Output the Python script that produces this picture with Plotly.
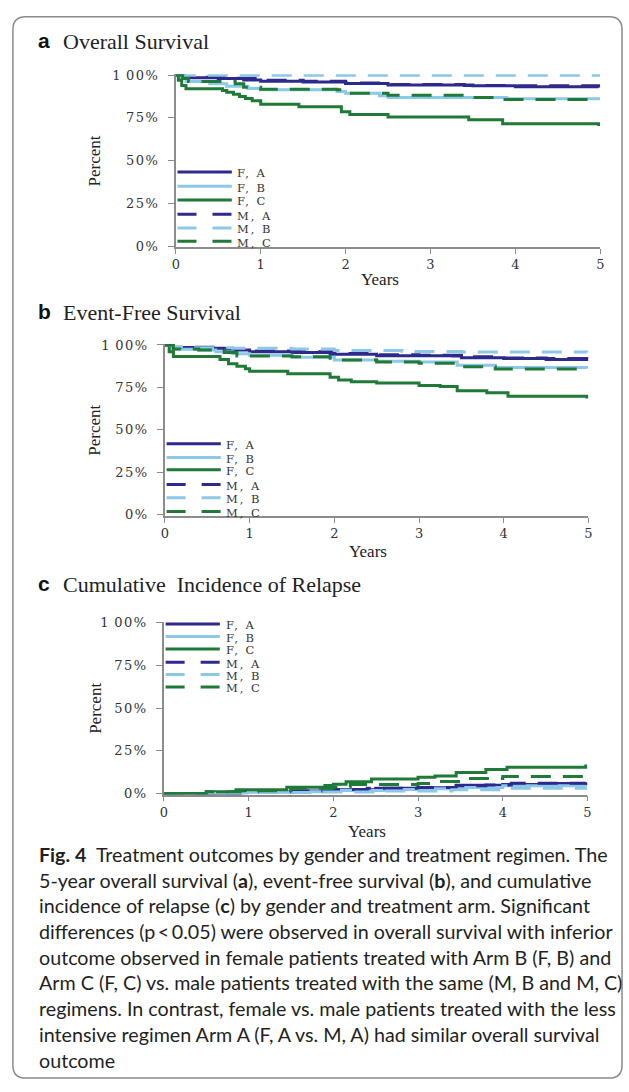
import plotly.graph_objects as go

W, H = 629, 1092

series_names = ["F, A", "F, B", "F, C", "M, A", "M, B", "M, C"]
series_colors = ["#2d2a8c", "#8cc8e8", "#1e7a36", "#2d2a8c", "#8cc8e8", "#1e7a36"]
series_dashed = [False, False, False, True, True, True]

# ---- Panel a: Overall Survival (years, percent)
os_t = {
    "F, A": [0, 0.08, 0.5, 0.8, 1.0, 1.5, 2.0, 2.5, 3.5, 4.0, 4.98],
    "F, B": [0, 0.05, 0.12, 0.4, 0.6, 0.85, 1.0, 1.9, 2.0, 2.4, 2.5, 3.9, 4.98],
    "F, C": [0, 0.03, 0.07, 0.12, 0.5, 0.55, 0.6, 0.68, 0.75, 0.82, 0.9, 1.0, 1.45, 1.95, 2.05, 2.5, 3.45, 3.85, 4.98],
    "M, A": [0, 0.1, 0.6, 1.0, 1.5, 2.0, 2.5, 3.0, 3.4, 4.0, 4.98],
    "M, B": [0, 5.0],
    "M, C": [0, 0.08, 0.15, 0.7, 0.8, 1.0, 1.9, 2.0, 2.5, 3.4, 3.5, 3.85, 4.98],
}
os_s = {
    "F, A": [100, 98.5, 98, 97.2, 96.5, 96, 95.2, 94.2, 93.8, 93.3, 92.8],
    "F, B": [100, 98, 96.3, 95, 93.5, 92.2, 91.5, 90.5, 89.5, 88, 87, 86.2, 85.3],
    "F, C": [100, 97, 94, 92, 92, 91, 90, 88.8, 87.5, 86.3, 85, 83, 81.6, 78.6, 77, 75.5, 74, 71.6, 70.3],
    "M, A": [100, 98.8, 98.2, 97, 96.5, 95.5, 94.5, 94.5, 94, 93.8, 93.5],
    "M, B": [100, 100],
    "M, C": [100, 98, 96.3, 95, 93, 91.8, 91.5, 89.5, 88.2, 88.0, 87, 85.8, 85.3],
}

# ---- Panel b: Event-Free Survival
efs_t = {
    "F, A": [0, 0.1, 0.5, 0.7, 1.0, 1.5, 1.95, 2.5, 3.4, 3.5, 4.0, 4.5, 4.98],
    "F, B": [0, 0.08, 0.4, 0.6, 0.8, 1.0, 1.5, 2.0, 2.5, 3.0, 3.45, 3.9, 4.98],
    "F, C": [0, 0.05, 0.1, 0.55, 0.65, 0.75, 0.85, 0.95, 1.0, 1.45, 1.95, 2.05, 2.2, 2.5, 3.0, 3.25, 3.45, 3.8, 4.05, 4.98],
    "M, A": [0, 0.1, 0.6, 1.0, 1.6, 2.0, 2.5, 3.0, 3.5, 4.0, 4.5, 4.98],
    "M, B": [0, 0.1, 0.3, 0.8, 1.5, 2.0, 2.8, 3.5, 4.98],
    "M, C": [0, 0.1, 0.4, 0.7, 0.85, 1.5, 1.95, 2.5, 3.0, 3.5, 3.9, 4.98],
}
efs_s = {
    "F, A": [100, 98.5, 98, 97, 96, 95.5, 94.5, 93.7, 93.5, 92.5, 92, 91.5, 90.5],
    "F, B": [100, 97.5, 97, 96, 94.8, 94, 92.8, 91.2, 90.4, 90, 88, 86.7, 86.2],
    "F, C": [100, 96, 93.2, 93.2, 91.5, 89, 87.5, 86, 84.5, 83, 81, 79.4, 78.4, 77.6, 76.2, 75.5, 73.1, 71.8, 69.8, 68.5],
    "M, A": [100, 98.6, 97.8, 96.5, 96, 95, 94.2, 94, 93, 92.3, 92, 91.5],
    "M, B": [100, 98.8, 98.4, 98, 97.6, 96.8, 96.2, 95.8, 95.5],
    "M, C": [100, 97.6, 97, 95.5, 93.5, 93, 91.2, 90, 89.3, 87.2, 85.8, 85],
}

# ---- Panel c: Cumulative Incidence of Relapse
cir_t = {
    "F, A": [0, 0.9, 1.5, 2.0, 2.5, 3.0, 3.45, 4.0, 4.6, 4.98],
    "F, B": [0, 0.5, 1.0, 1.9, 2.6, 3.0, 3.5, 4.0, 4.98],
    "F, C": [0, 0.5, 0.85, 1.45, 1.9, 2.0, 2.15, 2.45, 3.0, 3.2, 3.45, 3.8, 4.05, 4.98],
    "M, A": [0, 0.9, 1.5, 2.0, 2.4, 3.0, 3.45, 3.8, 4.1, 4.98],
    "M, B": [0, 1.0, 1.8, 2.6, 3.4, 4.0, 4.98],
    "M, C": [0, 0.5, 0.9, 1.5, 2.0, 2.2, 3.0, 3.2, 3.5, 4.0, 4.98],
}
cir_s = {
    "F, A": [0, 1, 1.5, 2.2, 3, 3.3, 4.8, 5.3, 5.8, 6],
    "F, B": [0, 0.6, 1.0, 1.8, 2.3, 2.8, 3.5, 4.5, 5],
    "F, C": [0, 1, 2.2, 3.6, 4.6, 5.4, 6.8, 8.4, 9.5, 10.2, 12.3, 14, 15.4, 17],
    "M, A": [0, 1, 1.5, 2.3, 3, 3.5, 4.5, 5, 6, 6.5],
    "M, B": [0, 0.5, 0.9, 1.5, 2.2, 3, 3.5],
    "M, C": [0, 1, 1.6, 3, 3.8, 5.2, 5.8, 7, 8.8, 10, 10],
}

panel_letters = ["a", "b", "c"]
panel_titles = ["Overall Survival", "Event-Free Survival", "Cumulative  Incidence of Relapse"]
x_ticks = [0, 1, 2, 3, 4, 5]
y_ticks = [0, 25, 50, 75, 100]
y_ticktext = ["0%", "25%", "50%", "75%", "1\u200900%"]
x_title = "Years"
y_title = "Percent"

caption_lines = [
    "<b>Fig. 4</b>  Treatment outcomes by gender and treatment regimen. The",
    "5-year overall survival (<b>a</b>), event-free survival (<b>b</b>), and cumulative",
    "incidence of relapse (<b>c</b>) by gender and treatment arm. Significant",
    "differences (p\u2009<\u20090.05) were observed in overall survival with inferior",
    "outcome observed in female patients treated with Arm B (F, B) and",
    "Arm C (F, C) vs. male patients treated with the same (M, B and M, C)",
    "regimens. In contrast, female vs. male patients treated with the less",
    "intensive regimen Arm A (F, A vs. M, A) had similar overall survival",
    "outcome",
]

# ---- layout geometry (pixels)
panels_px = [  # left, right, top, bottom
    (174, 604, 69, 244),
    (163, 592, 342, 516),
    (162, 591, 623, 798),
]
legend_y = [
    [0.434, 0.352, 0.272, 0.19, 0.11, 0.034],
    [0.42, 0.34, 0.268, 0.182, 0.105, 0.025],
    [0.986, 0.914, 0.841, 0.765, 0.694, 0.622],
]
title_y_px = [35, 309, 584]
years_y_px = [277, 552, 835]


def px_x(p):
    return p / W


def px_y(p):
    return 1 - p / H


def spaced(s, sp=2):
    return f'<span style="letter-spacing:{sp}px">{s}</span>'


fig = go.Figure()
datasets = [(os_t, os_s), (efs_t, efs_s), (cir_t, cir_s)]
serif = "Liberation Serif, Times New Roman, serif"
wide_serif = "DejaVu Serif, serif"
tickfont = dict(family=wide_serif, size=13, color="#333")

for i, (tt, ss) in enumerate(datasets):
    k = "" if i == 0 else str(i + 1)
    for name, col, dashed in zip(series_names, series_colors, series_dashed):
        fig.add_trace(go.Scatter(
            x=tt[name], y=ss[name], mode="lines", name=name,
            line=dict(color=col, width=3, dash="20px,12px" if dashed else "solid", shape="hv"),
            xaxis="x" + k, yaxis="y" + k, showlegend=False, hoverinfo="skip",
        ))
    l, r, t, b = panels_px[i]
    fig.layout["xaxis" + k] = dict(
        domain=[px_x(l), px_x(r)], range=[0, 5], anchor="y" + k,
        tickvals=x_ticks, ticks="outside", ticklen=5, tickcolor="#8c8c8c",
        showline=True, linecolor="#8c8c8c", linewidth=1.5, showgrid=False,
        zeroline=False, tickfont=tickfont,
    )
    fig.layout["yaxis" + k] = dict(
        domain=[px_y(b), px_y(t)], range=[-0.6, 100.6], anchor="x" + k,
        tickvals=y_ticks, ticktext=[spaced(s, 1.5) for s in y_ticktext],
        ticks="outside", ticklen=6, ticklabelstandoff=6,
        tickcolor="#8c8c8c", showline=True, linecolor="#8c8c8c", linewidth=1.5,
        showgrid=False, zeroline=False, tickfont=tickfont,
    )
    xd = ("x" + k) + " domain"
    yd = ("y" + k) + " domain"
    # axis titles
    fig.add_annotation(xref="paper", yref=yd, x=px_x(92), y=0.5, text=y_title,
                       textangle=-90, showarrow=False, xanchor="center", yanchor="middle",
                       font=dict(family=serif, size=17, color="#222"))
    fig.add_annotation(xref=xd, yref="paper", x=0.48, y=px_y(years_y_px[i]), text=x_title,
                       showarrow=False, xanchor="center", yanchor="middle",
                       font=dict(family=serif, size=17, color="#222"))
    # panel heading
    fig.add_annotation(xref="paper", yref="paper", x=px_x(32), y=px_y(title_y_px[i]),
                       text="<b>" + panel_letters[i] + "</b>", showarrow=False,
                       xanchor="left", yanchor="middle",
                       font=dict(family="Liberation Sans, Arial, sans-serif", size=21, color="#111"))
    fig.add_annotation(xref="paper", yref="paper", x=px_x(58), y=px_y(title_y_px[i] + 1),
                       text=panel_titles[i], showarrow=False,
                       xanchor="left", yanchor="middle",
                       font=dict(family=serif, size=22, color="#222"))
    # legend (drawn inside the plot area)
    for j, (name, col, dashed) in enumerate(zip(series_names, series_colors, series_dashed)):
        yy = legend_y[i][j]
        fig.add_shape(type="line", xref=xd, yref=yd, x0=0.004, x1=0.132, y0=yy, y1=yy,
                      line=dict(color=col, width=3, dash="19px,16px" if dashed else "solid"))
        fig.add_annotation(xref=xd, yref=yd, x=0.143, y=yy - 0.008, text=spaced(name, 2),
                           showarrow=False, xanchor="left", yanchor="middle", borderpad=0,
                           font=dict(family=wide_serif, size=11.5, color="#333"))

# caption
for n, line in enumerate(caption_lines):
    fig.add_annotation(xref="paper", yref="paper", x=px_x(33), y=px_y(858.5 + 26.05 * n),
                       text=line, showarrow=False, xanchor="left", yanchor="middle",
                       font=dict(family="Lato, Noto Sans, sans-serif", size=19.7, color="#231f20"))

# rounded frame
x0, x1 = px_x(9), px_x(626)
y0, y1 = px_y(1085), px_y(11)
rx, ry = 13 / W, 13 / H
path = (f"M {x0 + rx} {y1} L {x1 - rx} {y1} Q {x1} {y1} {x1} {y1 - ry} "
        f"L {x1} {y0 + ry} Q {x1} {y0} {x1 - rx} {y0} L {x0 + rx} {y0} "
        f"Q {x0} {y0} {x0} {y0 + ry} L {x0} {y1 - ry} Q {x0} {y1} {x0 + rx} {y1} Z")
fig.add_shape(type="path", xref="paper", yref="paper", path=path,
              line=dict(color="#8a8a8a", width=1.5), layer="below")

fig.update_layout(width=W, height=H, margin=dict(l=0, r=0, t=0, b=0),
                  paper_bgcolor="white", plot_bgcolor="white", showlegend=False)

fig.write_html("out.html")
